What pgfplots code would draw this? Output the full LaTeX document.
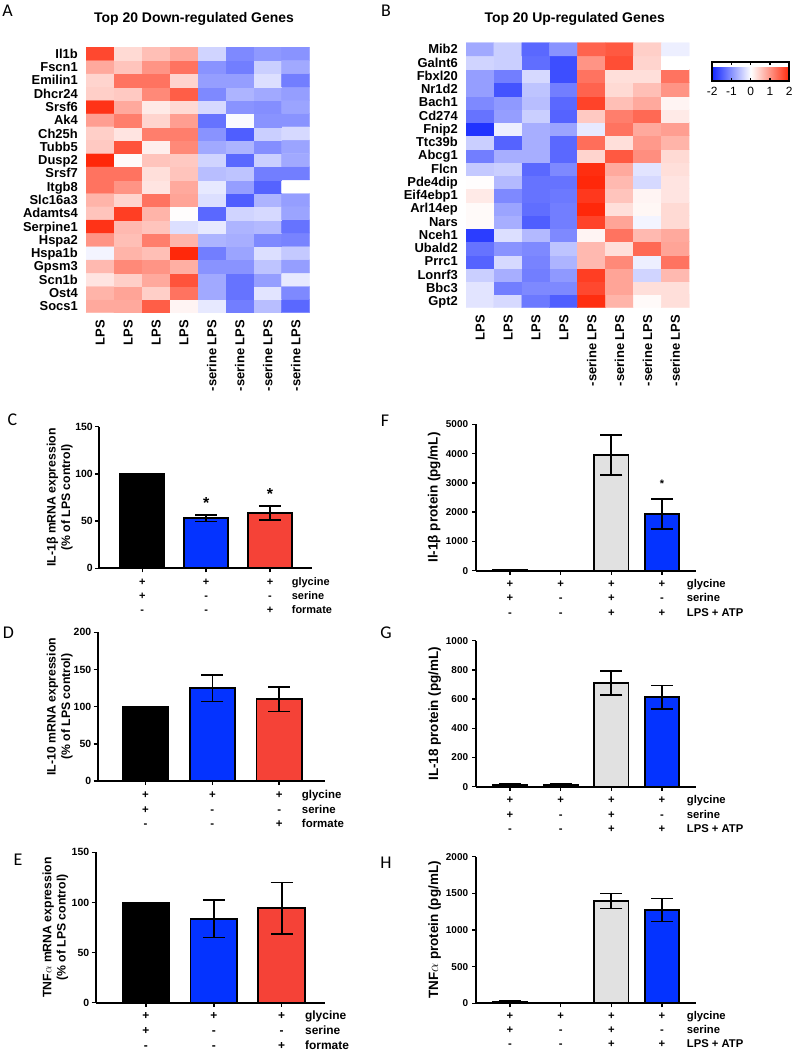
\documentclass[border=0pt]{standalone}
\usepackage{fontspec}
\setmainfont{Liberation Sans}
\newfontfamily\letterfont{Carlito}
\usepackage{pgfplots}
\pgfplotsset{compat=1.18}
\definecolor{pblue}{RGB}{4,51,255}
\definecolor{pred}{RGB}{245,66,55}
\definecolor{pgray}{RGB}{225,225,225}
\pgfplotsset{
  heat/.style={
    scale only axis, enlargelimits=false,
    xmin=-0.5, xmax=7.5, ymin=-0.5, ymax=19.5,
    axis line style={draw=none}, major tick length=0pt, tick style={draw=none},
    colormap={bwr}{rgb255=(20,40,255) rgb255=(255,255,255) rgb255=(255,40,10)},
    point meta min=-2, point meta max=2,
    xtick={0,...,7}, ytick={0,...,19},
    xticklabels={LPS,LPS,LPS,LPS,-serine LPS,-serine LPS,-serine LPS,-serine LPS},
    xticklabel shift=7bp, yticklabel shift=8bp,
    xticklabel style={rotate=90, anchor=east, inner sep=0pt, font=\bfseries\fontsize{13}{13}\selectfont, text height=9.3bp, text depth=0pt},
    yticklabel style={anchor=east, inner sep=0pt, font=\bfseries\fontsize{13}{13}\selectfont, text height=9.3bp, text depth=0pt},
  },
  barax/.style={
    scale only axis, axis lines=left, axis line style={-, line width=1.8bp},
    ymin=0, enlargelimits=false, clip=false,
    tick align=outside, major tick length=4bp, tick style={line width=1.5bp, black},
    scaled y ticks=false,
    /pgf/number format/1000 sep={}, /pgf/number format/assume math mode=true,
    yticklabel style={anchor=east, inner sep=0pt, font=\bfseries\fontsize{10.5}{10.5}\selectfont},
    yticklabel shift=2.3bp,
    xticklabel style={anchor=north, inner sep=0pt, align=center},
    xticklabel shift=2.9bp,
    extra x tick style={xticklabel style={anchor=north west, align=left}, tick style={draw=none}},
    ylabel style={anchor=center, align=center},
  },
  pbar/.style={ybar, bar shift=0pt, draw=black, line width=1.8bp},
  eb/.style={error bars/.cd, y dir=both, y explicit, error bar style={line width=1.7bp, black}, error mark options={rotate=90, line width=1.7bp, black, mark size=11bp}},
}
\tikzset{
  letter/.style={font=\letterfont\fontsize{18}{18}\selectfont, anchor=center, inner sep=0pt},
  htitle/.style={font=\bfseries\fontsize{14}{14}\selectfont, anchor=center, inner sep=0pt},
  star/.style={font=\bfseries\fontsize{16}{16}\selectfont, anchor=base, inner sep=0pt},
}
\begin{document}
\begin{tikzpicture}
\useasboundingbox (0,0) rectangle (792bp,-1050bp);
% panel letters and titles
\node[letter] at (7.5bp,-10.8bp) {A};
\node[letter] at (386bp,-10.8bp) {B};
\node[letter] at (12.3bp,-419.5bp) {C};
\node[letter] at (385bp,-421bp) {F};
\node[letter] at (8.3bp,-633bp) {D};
\node[letter] at (386bp,-633bp) {G};
\node[letter] at (18bp,-860bp) {E};
\node[letter] at (386bp,-863bp) {H};
\node[htitle] at (194bp,-18.7bp) {Top 20 Down-regulated Genes};
\node[htitle] at (574.7bp,-18.7bp) {Top 20 Up-regulated Genes};

% ---------------- Heatmap A ----------------
\begin{axis}[heat, at={(86bp,-47bp)}, anchor=north west, width=223.6bp, height=265.7bp,
  yticklabels={Socs1,Ost4,Scn1b,Gpsm3,Hspa1b,Hspa2,Serpine1,Adamts4,Slc16a3,Itgb8,Srsf7,Dusp2,Tubb5,Ch25h,Ak4,Srsf6,Dhcr24,Emilin1,Fscn1,Il1b}]
\addplot[matrix plot*, mesh/cols=8, point meta=explicit, draw=none] coordinates {
(0,0)[0.8] (1,0)[0.8] (2,0)[1.5] (3,0)[0.1] (4,0)[-0.2] (5,0)[-1.2] (6,0)[-0.6] (7,0)[-1.4]
(0,1)[0.7] (1,1)[0.85] (2,1)[0.45] (3,1)[1.3] (4,1)[-0.8] (5,1)[-1.3] (6,1)[-0.25] (7,1)[-1.1]
(0,2)[0.25] (1,2)[0.45] (2,2)[0.8] (3,2)[1.6] (4,2)[-0.8] (5,2)[-1.3] (6,2)[-0.9] (7,2)[-0.2]
(0,3)[0.65] (1,3)[1.1] (2,3)[1.0] (3,3)[0.75] (4,3)[-1.0] (5,3)[-1.0] (6,3)[-0.55] (7,3)[-0.9]
(0,4)[-0.1] (1,4)[0.7] (2,4)[0.6] (3,4)[2.0] (4,4)[-1.2] (5,4)[-0.85] (6,4)[-0.3] (7,4)[-0.5]
(0,5)[1.0] (1,5)[0.6] (2,5)[1.2] (3,5)[0.7] (4,5)[-0.7] (5,5)[-0.75] (6,5)[-1.1] (7,5)[-1.15]
(0,6)[1.9] (1,6)[0.65] (2,6)[0.55] (3,6)[-0.3] (4,6)[-0.2] (5,6)[-0.7] (6,6)[-0.65] (7,6)[-1.3]
(0,7)[0.55] (1,7)[1.8] (2,7)[0.7] (3,7)[0.02] (4,7)[-1.4] (5,7)[-0.4] (6,7)[-0.35] (7,7)[-0.85]
(0,8)[0.7] (1,8)[0.4] (2,8)[1.3] (3,8)[0.85] (4,8)[-0.3] (5,8)[-1.5] (6,8)[-0.7] (7,8)[-0.9]
(0,9)[1.3] (1,9)[1.0] (2,9)[0.25] (3,9)[0.8] (4,9)[-0.2] (5,9)[-0.9] (6,9)[-1.45] (7,9)[0.0]
(0,10)[1.3] (1,10)[1.3] (2,10)[0.3] (3,10)[0.55] (4,10)[-0.6] (5,10)[-0.55] (6,10)[-1.2] (7,10)[-1.2]
(0,11)[2.0] (1,11)[0.05] (2,11)[0.55] (3,11)[0.5] (4,11)[-0.4] (5,11)[-1.4] (6,11)[-0.45] (7,11)[-0.8]
(0,12)[0.5] (1,12)[1.6] (2,12)[0.15] (3,12)[1.1] (4,12)[-0.8] (5,12)[-0.7] (6,12)[-1.05] (7,12)[-0.85]
(0,13)[0.45] (1,13)[0.25] (2,13)[1.2] (3,13)[1.2] (4,13)[-1.0] (5,13)[-1.5] (6,13)[-0.45] (7,13)[-0.35]
(0,14)[0.9] (1,14)[1.2] (2,14)[0.4] (3,14)[0.9] (4,14)[-1.3] (5,14)[-0.05] (6,14)[-1.0] (7,14)[-1.0]
(0,15)[1.9] (1,15)[0.8] (2,15)[0.2] (3,15)[0.35] (4,15)[-0.35] (5,15)[-1.0] (6,15)[-1.05] (7,15)[-0.85]
(0,16)[0.45] (1,16)[0.5] (2,16)[1.1] (3,16)[1.5] (4,16)[-1.1] (5,16)[-0.7] (6,16)[-0.8] (7,16)[-0.9]
(0,17)[0.4] (1,17)[1.3] (2,17)[1.3] (3,17)[0.4] (4,17)[-0.9] (5,17)[-0.9] (6,17)[-0.3] (7,17)[-1.2]
(0,18)[0.8] (1,18)[0.55] (2,18)[1.0] (3,18)[1.3] (4,18)[-1.0] (5,18)[-1.2] (6,18)[-0.45] (7,18)[-0.8]
(0,19)[1.7] (1,19)[0.35] (2,19)[0.6] (3,19)[0.8] (4,19)[-0.4] (5,19)[-1.1] (6,19)[-0.95] (7,19)[-1.0]
};
\end{axis}

% ---------------- Heatmap B ----------------
\begin{axis}[heat, at={(466bp,-42.7bp)}, anchor=north west, width=223.3bp, height=265bp,
  yticklabels={Gpt2,Bbc3,Lonrf3,Prrc1,Ubald2,Nceh1,Nars,Arl14ep,Eif4ebp1,Pde4dip,Flcn,Abcg1,Ttc39b,Fnip2,Cd274,Bach1,Nr1d2,Fbxl20,Galnt6,Mib2},
  colorbar horizontal,
  colorbar style={
    at={(parent axis.north east)}, anchor=north west, xshift=23bp, yshift=-10.6bp,
    width=77bp, height=19.4bp,
    xtick={-2,-1,0,1,2}, xticklabels={-2,-1,0,1,2},
    every x tick label/.style={font=\fontsize{12}{12}\selectfont, anchor=north, inner sep=0pt},
    xticklabel shift=6bp,
    axis line style={draw=black, line width=1.8bp},
    tick style={draw=black, line width=1.2bp}, major tick length=3bp, tick align=inside,
    xtick pos=both, xticklabel pos=lower,
  }]
\addplot[matrix plot*, mesh/cols=8, point meta=explicit, draw=none] coordinates {
(0,0)[-0.25] (1,0)[-0.35] (2,0)[-1.25] (3,0)[-1.5] (4,0)[1.95] (5,0)[0.7] (6,0)[0.05] (7,0)[0.3]
(0,1)[-0.25] (1,1)[-1.2] (2,1)[-1.1] (3,1)[-1.1] (4,1)[1.7] (5,1)[0.85] (6,1)[0.3] (7,1)[0.3]
(0,2)[-0.45] (1,2)[-0.75] (2,2)[-1.2] (3,2)[-0.95] (4,2)[1.8] (5,2)[0.85] (6,2)[-0.4] (7,2)[0.65]
(0,3)[-1.45] (1,3)[-0.35] (2,3)[-1.15] (3,3)[-0.7] (4,3)[0.65] (5,3)[1.1] (6,3)[-0.15] (7,3)[1.3]
(0,4)[-1.3] (1,4)[-1.0] (2,4)[-1.1] (3,4)[-0.55] (4,4)[0.65] (5,4)[0.3] (6,4)[1.4] (7,4)[0.85]
(0,5)[-1.8] (1,5)[-0.3] (2,5)[-0.65] (3,5)[-1.1] (4,5)[0.1] (5,5)[1.3] (6,5)[0.65] (7,5)[0.8]
(0,6)[0.05] (1,6)[-0.75] (2,6)[-1.5] (3,6)[-1.2] (4,6)[1.75] (5,6)[0.85] (6,6)[-0.1] (7,6)[0.35]
(0,7)[0.05] (1,7)[-0.85] (2,7)[-1.35] (3,7)[-1.2] (4,7)[2.0] (5,7)[0.3] (6,7)[0.08] (7,7)[0.35]
(0,8)[0.2] (1,8)[-1.1] (2,8)[-1.3] (3,8)[-1.25] (4,8)[1.85] (5,8)[0.55] (6,8)[0.1] (7,8)[0.25]
(0,9)[0.02] (1,9)[-0.65] (2,9)[-1.3] (3,9)[-1.3] (4,9)[2.0] (5,9)[0.65] (6,9)[-0.35] (7,9)[0.25]
(0,10)[-0.5] (1,10)[-0.45] (2,10)[-1.4] (3,10)[-1.1] (4,10)[1.95] (5,10)[0.8] (6,10)[-0.25] (7,10)[0.3]
(0,11)[-1.2] (1,11)[-0.75] (2,11)[-0.75] (3,11)[-1.4] (4,11)[0.4] (5,11)[1.55] (6,11)[1.05] (7,11)[0.35]
(0,12)[-0.45] (1,12)[-1.45] (2,12)[-0.75] (3,12)[-1.4] (4,12)[1.35] (5,12)[0.3] (6,12)[0.95] (7,12)[0.7]
(0,13)[-1.9] (1,13)[-0.15] (2,13)[-0.75] (3,13)[-0.85] (4,13)[-0.2] (5,13)[1.3] (6,13)[0.8] (7,13)[0.9]
(0,14)[-1.3] (1,14)[-0.9] (2,14)[-0.45] (3,14)[-1.45] (4,14)[0.5] (5,14)[1.2] (6,14)[1.4] (7,14)[0.2]
(0,15)[-1.1] (1,15)[-0.95] (2,15)[-0.6] (3,15)[-1.4] (4,15)[1.75] (5,15)[0.6] (6,15)[0.8] (7,15)[0.1]
(0,16)[-0.9] (1,16)[-1.6] (2,16)[-0.55] (3,16)[-1.2] (4,16)[1.45] (5,16)[0.35] (6,16)[0.6] (7,16)[1.0]
(0,17)[-0.9] (1,17)[-1.2] (2,17)[-0.35] (3,17)[-1.65] (4,17)[1.3] (5,17)[0.3] (6,17)[0.3] (7,17)[1.3]
(0,18)[-0.4] (1,18)[-0.45] (2,18)[-1.35] (3,18)[-1.65] (4,18)[1.0] (5,18)[1.65] (6,18)[0.4] (7,18)[0.0]
(0,19)[-0.8] (1,19)[-0.45] (2,19)[-1.4] (3,19)[-1.0] (4,19)[1.45] (5,19)[1.55] (6,19)[0.45] (7,19)[-0.15]
};
\end{axis}

% ---------------- C ----------------
\begin{axis}[barax, at={(99.3bp,-568.3bp)}, anchor=south west, width=212.4bp, height=141.6bp,
  xmin=0.327, xmax=3.654, ymax=150, ytick={0,50,100,150}, bar width=0.69,
  xtick={1,2,3},
  xticklabel style={font=\bfseries\fontsize{11}{14.2}\selectfont},
  xticklabels={{\strut+\\\strut+\\\strut-},{\strut+\\\strut-\\\strut-},{\strut+\\\strut-\\\strut+}},
  extra x ticks={3.34}, extra x tick labels={{\strut glycine\\\strut serine\\\strut formate}},
  ylabel={IL-1β mRNA expression\\(\% of LPS control)},
  ylabel style={at={(axis description cs:-0.186,0.5)}, font=\bfseries\fontsize{12.3}{14.5}\selectfont}]
\addplot[pbar, fill=black] coordinates {(1,100)};
\addplot[pbar, fill=pblue, eb] coordinates {(2,53) +- (0,3.5)};
\addplot[pbar, fill=pred, eb] coordinates {(3,58.5) +- (0,7.5)};
\node[star] at (axis cs:2,63.8) {*};
\node[star] at (axis cs:3,72.6) {*};
\end{axis}

% ---------------- D ----------------
\begin{axis}[barax, at={(97.7bp,-781bp)}, anchor=south west, width=227.3bp, height=148.7bp,
  xmin=0.285, xmax=3.685, ymax=200, ytick={0,50,100,150,200}, bar width=0.68,
  xtick={1,2,3},
  xticklabel style={font=\bfseries\fontsize{11.5}{14.8}\selectfont},
  xticklabels={{\strut+\\\strut+\\\strut-},{\strut+\\\strut-\\\strut-},{\strut+\\\strut-\\\strut+}},
  extra x ticks={3.337}, extra x tick labels={{\strut glycine\\\strut serine\\\strut formate}},
  ylabel={IL-10 mRNA expression\\(\% of LPS control)},
  ylabel style={at={(axis description cs:-0.167,0.5)}, font=\bfseries\fontsize{12.3}{14.5}\selectfont}]
\addplot[pbar, fill=black] coordinates {(1,100)};
\addplot[pbar, fill=pblue, eb] coordinates {(2,124.7) +- (0,17.7)};
\addplot[pbar, fill=pred, eb] coordinates {(3,110) +- (0,16.6)};
\end{axis}

% ---------------- E ----------------
\begin{axis}[barax, at={(95.7bp,-1002.7bp)}, anchor=south west, width=229.3bp, height=150.4bp,
  xmin=0.259, xmax=3.639, ymax=150, ytick={0,50,100,150}, bar width=0.687,
  xtick={1,2,3}, xticklabel shift=2bp,
  xticklabel style={font=\bfseries\fontsize{12}{15}\selectfont},
  xticklabels={{\strut+\\\strut+\\\strut-},{\strut+\\\strut-\\\strut-},{\strut+\\\strut-\\\strut+}},
  extra x ticks={3.343}, extra x tick labels={{\strut glycine\\\strut serine\\\strut formate}},
  ylabel={TNF$\alpha$ mRNA expression\\(\% of LPS control)},
  ylabel style={at={(axis description cs:-0.176,0.5)}, font=\bfseries\fontsize{12.3}{14.5}\selectfont}]
\addplot[pbar, fill=black] coordinates {(1,100)};
\addplot[pbar, fill=pblue, eb] coordinates {(2,83.5) +- (0,18.6)};
\addplot[pbar, fill=pred, eb] coordinates {(3,94.1) +- (0,25.8)};
\end{axis}

% ---------------- F ----------------
\begin{axis}[barax, at={(476bp,-570.7bp)}, anchor=south west, width=220bp, height=146.4bp,
  xmin=0.329, xmax=4.671, ymax=5000, ytick={0,1000,2000,3000,4000,5000}, bar width=0.677,
  yticklabel style={font=\bfseries\fontsize{10}{10}\selectfont}, yticklabel shift=3.7bp,
  xtick={1,2,3,4},
  xticklabel style={font=\bfseries\fontsize{11.3}{14.2}\selectfont},
  xticklabels={{\strut+\\\strut+\\\strut-},{\strut+\\\strut-\\\strut-},{\strut+\\\strut+\\\strut+},{\strut+\\\strut-\\\strut+}},
  extra x ticks={4.487}, extra x tick labels={{\strut glycine\\\strut serine\\\strut LPS + ATP}},
  ylabel={Il-1β protein (pg/mL)},
  ylabel style={at={(axis description cs:-0.19,0.5)}, font=\bfseries\fontsize{13.5}{14.5}\selectfont}]
\addplot[pbar, fill=white] coordinates {(1,15)};
\addplot[pbar, fill=white] coordinates {(2,10)};
\addplot[pbar, fill=pgray, eb] coordinates {(3,3950) +- (0,690)};
\addplot[pbar, fill=pblue, eb] coordinates {(4,1940) +- (0,520)};
\node[star, font=\bfseries\fontsize{11}{11}\selectfont] at (axis cs:4,2848) {*};
\end{axis}

% ---------------- G ----------------
\begin{axis}[barax, at={(476bp,-786.7bp)}, anchor=south west, width=220bp, height=146bp,
  xmin=0.329, xmax=4.671, ymax=1000, ytick={0,200,400,600,800,1000}, bar width=0.677,
  yticklabel style={font=\bfseries\fontsize{10}{10}\selectfont}, yticklabel shift=3.7bp,
  xtick={1,2,3,4},
  xticklabel style={font=\bfseries\fontsize{11.3}{14.5}\selectfont},
  xticklabels={{\strut+\\\strut+\\\strut-},{\strut+\\\strut-\\\strut-},{\strut+\\\strut+\\\strut+},{\strut+\\\strut-\\\strut+}},
  extra x ticks={4.487}, extra x tick labels={{\strut glycine\\\strut serine\\\strut LPS + ATP}},
  ylabel={IL-18 protein (pg/mL)},
  ylabel style={at={(axis description cs:-0.188,0.5)}, font=\bfseries\fontsize{13.5}{14.5}\selectfont}]
\addplot[pbar, fill=white, eb] coordinates {(1,12) +- (0,6)};
\addplot[pbar, fill=white, eb] coordinates {(2,10) +- (0,8)};
\addplot[pbar, fill=pgray, eb] coordinates {(3,712) +- (0,82)};
\addplot[pbar, fill=pblue, eb] coordinates {(4,612) +- (0,81)};
\end{axis}

% ---------------- H ----------------
\begin{axis}[barax, at={(476bp,-1003.3bp)}, anchor=south west, width=220bp, height=146.6bp,
  xmin=0.329, xmax=4.671, ymax=2000, ytick={0,500,1000,1500,2000}, bar width=0.677,
  yticklabel style={font=\bfseries\fontsize{10}{10}\selectfont}, yticklabel shift=3.7bp,
  xtick={1,2,3,4}, xticklabel shift=2bp,
  xticklabel style={font=\bfseries\fontsize{11.3}{14.3}\selectfont},
  xticklabels={{\strut+\\\strut+\\\strut-},{\strut+\\\strut-\\\strut-},{\strut+\\\strut+\\\strut+},{\strut+\\\strut-\\\strut+}},
  extra x ticks={4.487}, extra x tick labels={{\strut glycine\\\strut serine\\\strut LPS + ATP}},
  ylabel={TNF$\alpha$ protein (pg/mL)},
  ylabel style={at={(axis description cs:-0.188,0.5)}, font=\bfseries\fontsize{13.5}{14.5}\selectfont}]
\addplot[pbar, fill=white, eb] coordinates {(1,25) +- (0,12)};
\addplot[pbar, fill=white, eb] coordinates {(2,8) +- (0,4)};
\addplot[pbar, fill=pgray, eb] coordinates {(3,1395) +- (0,102)};
\addplot[pbar, fill=pblue, eb] coordinates {(4,1272) +- (0,157)};
\end{axis}
\end{tikzpicture}
\end{document}
